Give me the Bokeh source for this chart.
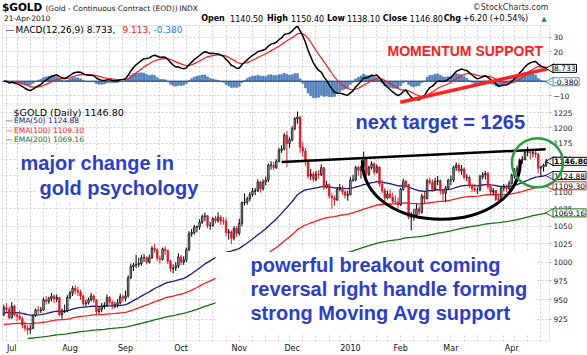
import math
import pandas as pd
from bokeh.plotting import figure
from bokeh.layouts import column
from bokeh.models import (Range1d, FixedTicker, Label, BoxAnnotation, LinearAxis, LogAxis,
                          NumeralTickFormatter, ColumnDataSource, Grid)
from bokeh.embed import file_html
from bokeh.resources import INLINE

# ---------------- data ----------------
holidays = ["2009-07-03", "2009-09-07", "2009-11-26", "2009-12-25",
            "2010-01-01", "2010-01-18", "2010-02-15", "2010-04-02"]
dates = [d for d in pd.bdate_range("2009-06-26", "2010-04-21")
         if d.strftime("%Y-%m-%d") not in holidays]

opens = [931, 940, 938,
         927, 942, 931, 929, 926, 918, 914, 912, 914, 930, 937, 936, 937, 950, 948, 952, 955, 951, 953, 931, 936, 936,
         953, 959, 965, 962, 960, 955, 945, 946, 950, 955, 950, 935, 938, 942, 943, 953, 947, 942, 944, 946, 954,
         952, 955, 979, 994, 996, 997, 998, 1006, 1006, 1000, 1006, 1019, 1017, 1005, 1004, 1018, 1016, 1001, 991, 992, 995,
         1007, 1000, 1003, 1017, 1039, 1041, 1049, 1049, 1056, 1064, 1065, 1051, 1051, 1061, 1058, 1063, 1058, 1057, 1041, 1042, 1033, 1047,
         1040, 1054, 1084, 1085, 1090, 1096, 1101, 1102, 1115, 1105, 1115, 1118, 1141, 1141, 1137, 1147, 1164, 1166, 1188, 1175,
         1181, 1199, 1215, 1218, 1169, 1163, 1147, 1124, 1127, 1119, 1127, 1126, 1137, 1107, 1111, 1094, 1091, 1088, 1104, 1105, 1100, 1095,
         1096, 1118, 1118, 1137, 1133, 1138, 1151, 1127, 1137, 1143, 1130, 1138, 1112, 1102, 1091, 1097, 1092, 1086, 1085,
         1081, 1104, 1116, 1111, 1063, 1064, 1066, 1075, 1070, 1094, 1090, 1117, 1114, 1104, 1116, 1117, 1102, 1098, 1106,
         1118, 1118, 1137, 1141, 1132, 1135, 1122, 1122, 1110, 1105, 1103, 1103, 1123, 1126, 1128, 1108, 1100, 1102, 1089, 1088, 1106, 1108, 1105,
         1113, 1125, 1132, 1136, 1149, 1150, 1161, 1161, 1160, 1160, 1158, 1136, 1138, 1140.5]
highs = [944, 946, 941,
         947, 944, 934, 936, 929, 922, 918, 918, 931, 939, 942, 941, 953, 955, 954, 959, 957, 957, 954, 939, 944, 956,
         962, 968, 969, 967, 963, 957, 950, 953, 959, 957, 951, 941, 946, 947, 957, 955, 950, 948, 951, 958, 957,
         962, 982, 998, 999, 1010, 1006, 1010, 1011, 1008, 1010, 1022, 1025, 1019, 1009, 1020, 1022, 1017, 1003, 997, 1000, 1012,
         1010, 1008, 1020, 1043, 1046, 1052, 1051, 1060, 1067, 1070, 1066, 1056, 1063, 1065, 1070, 1066, 1063, 1062, 1046, 1044, 1050, 1050,
         1061, 1086, 1098, 1093, 1100, 1106, 1106, 1119, 1117, 1119, 1123, 1143, 1147, 1146, 1150, 1168, 1172, 1192, 1195, 1185,
         1203, 1218, 1227, 1219, 1177, 1168, 1150, 1135, 1131, 1132, 1133, 1142, 1138, 1117, 1113, 1098, 1095, 1106, 1112, 1110, 1103, 1102,
         1123, 1126, 1140, 1140, 1140, 1162, 1153, 1140, 1147, 1145, 1142, 1139, 1118, 1106, 1102, 1104, 1099, 1095, 1092,
         1106, 1120, 1118, 1112, 1070, 1075, 1082, 1080, 1097, 1100, 1120, 1122, 1119, 1121, 1124, 1119, 1103, 1109, 1120,
         1125, 1140, 1145, 1144, 1141, 1138, 1127, 1125, 1113, 1112, 1107, 1126, 1130, 1132, 1130, 1112, 1106, 1103, 1098, 1108, 1112, 1111, 1117,
         1128, 1136, 1140, 1151, 1155, 1164, 1170, 1163, 1166, 1165, 1160, 1140, 1143, 1150.4]
lows = [929, 934, 925,
        926, 929, 923, 924, 914, 910, 906, 907, 913, 928, 932, 933, 936, 944, 945, 948, 946, 947, 929, 926, 933, 934,
        951, 955, 957, 955, 950, 941, 942, 944, 948, 946, 931, 932, 934, 938, 941, 944, 938, 939, 940, 944, 947,
        948, 953, 977, 988, 992, 993, 995, 1000, 997, 998, 1004, 1013, 1001, 998, 1002, 1010, 997, 987, 985, 988, 992,
        996, 996, 1000, 1015, 1035, 1038, 1041, 1045, 1053, 1057, 1047, 1045, 1049, 1054, 1055, 1052, 1052, 1036, 1031, 1025, 1030, 1035,
        1037, 1050, 1080, 1081, 1086, 1093, 1095, 1100, 1099, 1102, 1110, 1115, 1134, 1133, 1135, 1145, 1160, 1164, 1138, 1168,
        1178, 1196, 1207, 1160, 1154, 1140, 1120, 1118, 1115, 1116, 1120, 1124, 1103, 1105, 1090, 1075, 1080, 1087, 1101, 1096, 1090, 1087,
        1095, 1115, 1116, 1125, 1120, 1136, 1122, 1124, 1134, 1126, 1128, 1108, 1098, 1086, 1089, 1090, 1083, 1082, 1076,
        1079, 1102, 1106, 1060, 1044, 1058, 1064, 1066, 1068, 1083, 1089, 1111, 1100, 1102, 1110, 1096, 1087, 1085, 1103,
        1110, 1115, 1132, 1129, 1126, 1119, 1116, 1106, 1100, 1100, 1097, 1101, 1119, 1119, 1104, 1097, 1095, 1086, 1083, 1086, 1101, 1100, 1103,
        1111, 1120, 1127, 1134, 1143, 1148, 1155, 1150, 1153, 1152, 1128, 1123, 1131, 1138.1]
closes = [940, 938, 927,
          942, 931, 929, 926, 918, 914, 912, 914, 930, 937, 936, 937, 950, 948, 952, 955, 951, 953, 931, 936, 936, 953,
          959, 965, 962, 960, 955, 945, 946, 950, 955, 950, 935, 938, 942, 943, 953, 947, 942, 944, 946, 954, 952,
          955, 979, 994, 996, 997, 998, 1006, 1006, 1000, 1006, 1019, 1017, 1005, 1004, 1018, 1016, 1001, 991, 992, 995, 1007,
          1000, 1003, 1017, 1039, 1041, 1049, 1049, 1056, 1064, 1065, 1051, 1051, 1061, 1058, 1063, 1058, 1057, 1041, 1042, 1033, 1047, 1040,
          1054, 1084, 1085, 1090, 1096, 1101, 1102, 1115, 1105, 1115, 1118, 1141, 1141, 1137, 1147, 1164, 1166, 1188, 1175, 1181,
          1199, 1215, 1218, 1169, 1163, 1147, 1124, 1127, 1119, 1127, 1126, 1137, 1107, 1111, 1094, 1091, 1088, 1104, 1105, 1100, 1095, 1096,
          1118, 1118, 1137, 1133, 1138, 1151, 1127, 1137, 1143, 1130, 1138, 1112, 1102, 1091, 1097, 1092, 1086, 1085, 1081,
          1104, 1116, 1111, 1063, 1064, 1066, 1075, 1070, 1094, 1090, 1117, 1114, 1104, 1116, 1117, 1102, 1098, 1106, 1118,
          1118, 1137, 1141, 1132, 1135, 1122, 1122, 1110, 1105, 1103, 1103, 1123, 1126, 1128, 1108, 1100, 1102, 1089, 1088, 1106, 1108, 1105, 1113,
          1125, 1132, 1136, 1149, 1150, 1161, 1161, 1160, 1160, 1158, 1136, 1138, 1140.6, 1146.8]

price_ticks = [925, 950, 975, 1000, 1025, 1050, 1075, 1100, 1125, 1150, 1175, 1200, 1225]
macd_ticks = [-10, 0, 10, 20, 30]

ema_periods = [50, 100, 200]
ema_seeds = [933.6, 918.7, 901.6]      # values read at the left end of each line
ema_first = [0, 0, 9]                  # first bar on which each line is drawn
ema_names = ["EMA(50) 1124.88", "EMA(100) 1109.30", "EMA(200) 1069.16"]
ema_tags = ["1124.88", "1109.30", "1069.16"]
ema_tag_values = [1124.88, 1109.30, 1069.16]

macd_last = [8.733, 9.113, -0.380]

neck_x = [105.0, 204.8]
neck_y = [1145.8, 1165.6]
cup_x = [135.5, 195.3]
cup_top = 1148.4
cup_ctrl = 1032.0
support_x = [149.9, 205.4]
support_y = [-14.3, 8.4]
circle_x = [201.7]
circle_y = [1144.6]

# ---------------- derived ----------------
n = len(closes)
idx = list(range(n))
month_ticks = [i for i in idx if i > 0 and dates[i].month != dates[i - 1].month]
month_labels = {i: ("2010" if dates[i].month == 1 else dates[i].strftime("%b")) for i in month_ticks}
week_ticks = [i for i in idx if i > 0 and dates[i].weekday() < dates[i - 1].weekday()]


def ema(vals, span, seed, start=0):
    a = 2.0 / (span + 1)
    out = [float("nan")] * len(vals)
    e = seed
    out[start] = e
    for k in range(start + 1, len(vals)):
        e = e + a * (vals[k] - e)
        out[k] = e
    return out


e12 = ema(closes, 12, closes[0])
e26 = ema(closes, 26, closes[0])
macd = [a - b for a, b in zip(e12, e26)]
signal = ema(macd, 9, macd[0])
hist = [a - b for a, b in zip(macd, signal)]

prev = [opens[0]] + closes[:-1]
up = [c >= pc for c, pc in zip(closes, prev)]


def sub(mask):
    return ColumnDataSource(dict(
        x=[i for i in idx if mask[i]],
        top=[max(opens[i], closes[i]) for i in idx if mask[i]],
        bottom=[min(opens[i], closes[i]) for i in idx if mask[i]],
        high=[highs[i] for i in idx if mask[i]],
        low=[lows[i] for i in idx if mask[i]],
    ))


src_up = sub(up)
src_dn = sub([not u for u in up])

# ---------------- layout helpers (pixel -> data) ----------------
PX = 2.6455


def X(px):
    return -0.5 + (px - 2) / PX


def PY(py):
    return 1225 * math.exp(-(py - 112.3) / 739.0)


def MY(py):
    return (80.7 - py) / 1.47


GRID = "#cfcfcf"
FRAME = "#a9a0b4"
FONT = "DejaVu Sans"
BIG = "Liberation Sans"
BLUE = "#2a3fd0"
RIGHT = X(549)

xr = Range1d(X(1), X(587))


def lab(p, x, y, text, size="8px", color="#111111", bold=False, bg=None,
        border=None, pad=0, font=FONT):
    kw = dict(x=x, y=y, text=text, text_font=font, text_font_size=size,
              text_color=color, text_font_style="bold" if bold else "normal",
              text_align="left", text_baseline="middle")
    if bg is not None:
        kw["background_fill_color"] = bg
        kw["background_fill_alpha"] = 1.0
    if border is not None:
        kw["border_line_color"] = border
        kw["border_line_width"] = 1
    if pad:
        kw["padding"] = pad
    p.add_layout(Label(**kw))


def panel(p, ticks, axis, frame_top, frame_bottom):
    p.outline_line_color = None
    p.background_fill_color = "white"
    p.border_fill_color = "white"
    p.grid.visible = False
    p.add_layout(Grid(dimension=0, ticker=FixedTicker(ticks=week_ticks),
                      grid_line_color=GRID, grid_line_dash="2 2"))
    p.add_layout(Grid(dimension=1, ticker=FixedTicker(ticks=ticks),
                      grid_line_color=GRID, grid_line_dash="2 2"))
    # blank strip right of the plotting area (holds the value scale)
    p.add_layout(BoxAnnotation(left=RIGHT, fill_color="white", fill_alpha=1.0,
                               line_color=None, level="underlay"))
    axis.fixed_location = RIGHT
    axis.ticker = FixedTicker(ticks=ticks)
    axis.axis_line_color = None
    axis.major_tick_line_color = "#a0a0a0"
    axis.major_tick_in = 0
    axis.major_tick_out = 2
    axis.minor_tick_line_color = None
    axis.major_label_standoff = 2
    axis.major_label_text_font = FONT
    axis.major_label_text_font_size = "7.5px"
    axis.major_label_text_color = "#222222"
    p.add_layout(axis, "right")
    p.add_layout(BoxAnnotation(left=X(2), right=RIGHT, top=frame_top, bottom=frame_bottom,
                               fill_alpha=0.0, line_color=FRAME, line_width=1))


def tag(p, y, text, border, bold=False):
    p.scatter([X(550.5)], [y], marker="triangle", angle=math.pi / 2, size=9,
              fill_color="white", line_color=border, line_width=1)
    lab(p, X(552.5), y, text, size="7.5px", color="black", bold=bold,
        bg="white", border=border, pad=1)


# ---------------- header ----------------
p0 = figure(width=587, height=24, x_range=Range1d(0, 587), y_range=Range1d(24, 0),
            x_axis_location=None, y_axis_location=None, output_backend="svg",
            toolbar_location=None, min_border=0)
p0.outline_line_color = None
p0.grid.visible = False
lab(p0, 0.5, 6.5, "$GOLD", size="10.5px", color="black", bold=True)
lab(p0, 44, 7.5, "(Gold - Continuous Contract (EOD))", size="7.5px", color="#222222")
lab(p0, 178, 7.5, "INDX", size="7.5px", color="#222222")
lab(p0, 472, 6.5, "\u00a9StockCharts.com", size="8px", color="#333333")
lab(p0, 2.5, 17.5, "21-Apr-2010", size="7.5px", color="#111111")
hdr = [(200, "Open", True), (229, "1140.50", False), (266, "High", True), (290, "1150.40", False),
       (326, "Low", True), (346, "1138.10", False), (382, "Close", True), (409, "1146.80", False),
       (443, "Chg", True), (462, "+6.20 (+0.54%)", False)]
for px, t, b in hdr:
    lab(p0, px, 18, t, size="8px", color="black", bold=b)
lab(p0, 541, 18, "\u25b2", size="6.5px", color="#1a8a2a")

# ---------------- MACD panel ----------------
p1 = figure(width=587, height=80, x_range=xr, y_range=Range1d(MY(104), MY(24)),
            x_axis_location=None, y_axis_location=None,
            output_backend="svg", toolbar_location=None,
            min_border_left=1, min_border_right=0, min_border_top=0, min_border_bottom=0)
panel(p1, macd_ticks, LinearAxis(), MY(25), MY(103.5))

p1.vbar(x=idx, top=hist, bottom=0, width=0.75, fill_color="#4f86c2", line_color="#3f6fa8", line_width=0.5)
p1.line(idx, [0] * n, line_color="#1f3f86", line_width=1)
p1.line(idx, signal, line_color="#ff1a1a", line_width=1.2)
p1.line(idx, macd, line_color="black", line_width=1.5)
p1.line(support_x, support_y, line_color="#ff2020", line_width=3.5)

lab(p1, X(5), MY(29), "\u2014", size="9px", color="black")
lab(p1, X(15), MY(29), "MACD(12,26,9) 8.733,", size="9px", color="black")
lab(p1, X(122), MY(29), "9.113,", size="9px", color="#ff1a1a")
lab(p1, X(153), MY(29), "-0.380", size="9px", color="#1e88d0")
lab(p1, X(386), MY(50), "MOMENTUM SUPPORT", size="14px", color="#ff2020", bold=True,
    bg="white", pad=1, font=BIG)
tag(p1, macd_last[0], "8.733", "black")
tag(p1, macd_last[2], "-0.380", "#3399dd")

# ---------------- price panel ----------------
p2 = figure(width=587, height=251, x_range=xr, y_range=Range1d(PY(342), PY(104)),
            y_axis_type="log", y_axis_location=None,
            output_backend="svg", toolbar_location=None,
            min_border_left=1, min_border_right=0, min_border_top=0, min_border_bottom=13)
yax = LogAxis(formatter=NumeralTickFormatter(format="0"))
panel(p2, price_ticks, yax, PY(104.5), PY(341.5))
p2.xaxis.ticker = FixedTicker(ticks=month_ticks)
p2.xaxis.major_label_overrides = month_labels
p2.xaxis.axis_line_color = None
p2.xaxis.major_tick_line_color = None
p2.xaxis.minor_tick_line_color = None
p2.xaxis.major_tick_out = 0
p2.xaxis.major_label_standoff = 2
p2.xaxis.major_label_text_font = FONT
p2.xaxis.major_label_text_font_size = "8px"
p2.xaxis.major_label_text_color = "#111111"

ema_colors = ["#1a1a8c", "#ff1a1a", "#137313"]
for per, seed, st, col in zip(ema_periods, ema_seeds, ema_first, ema_colors):
    p2.line(idx, ema(closes, per, seed, st), line_color=col, line_width=1.3)

p2.segment(x0="x", y0="low", x1="x", y1="high", source=src_up, line_color="black", line_width=1)
p2.vbar(x="x", top="top", bottom="bottom", width=0.62, source=src_up,
        fill_color="#9a9a9a", line_color="black", line_width=0.7)
p2.segment(x0="x", y0="low", x1="x", y1="high", source=src_dn, line_color="#e01b22", line_width=1)
p2.vbar(x="x", top="top", bottom="bottom", width=0.62, source=src_dn,
        fill_color="#e01b22", line_color="#e01b22", line_width=0.7)

p2.line(neck_x, neck_y, line_color="black", line_width=2.5)
p2.bezier(x0=[cup_x[0]], y0=[cup_top], x1=[cup_x[1]], y1=[cup_top],
          cx0=[cup_x[0]], cy0=[cup_ctrl], cx1=[cup_x[1]], cy1=[cup_ctrl],
          line_color="black", line_width=3)

# white box behind the lower note
p2.add_layout(BoxAnnotation(left=X(215), right=X(535), top=PY(252), bottom=PY(334),
                            fill_color="white", fill_alpha=1.0, line_color=None))

lab(p2, X(13), PY(111.7), "$GOLD (Daily) 1146.80", size="9.5px", color="black")
for k, (nm, col) in enumerate(zip(ema_names, ema_colors)):
    lab(p2, X(5), PY(120.5 + 9.2 * k), "\u2014", size="7.5px", color=col)
    lab(p2, X(13.5), PY(120.5 + 9.2 * k), nm, size="7.5px", color=col)

lab(p2, X(18), PY(163), "major change in", size="20px", color=BLUE, bold=True, bg="white", pad=2, font=BIG)
lab(p2, X(37), PY(188), "gold psychology", size="20px", color=BLUE, bold=True, bg="white", pad=2, font=BIG)
lab(p2, X(353), PY(121.7), "next target = 1265", size="20px", color=BLUE, bold=True, bg="white", pad=2, font=BIG)
for k, t in enumerate(["powerful breakout coming", "reversal right handle forming",
                       "strong Moving Avg support"]):
    lab(p2, X(250), PY(265 + 24 * k), t, size="20px", color=BLUE, bold=True, font=BIG)

tag(p2, closes[-1], "1146.80", "black", bold=True)
for v, t, col in zip(ema_tag_values, ema_tags, ema_colors):
    tag(p2, v, t, col)

p2.ellipse(x=circle_x, y=circle_y, width=51, height=49, width_units="screen", height_units="screen",
           fill_color=None, line_color="#22a03c", line_width=2.5, level="overlay")

page = column(p0, p1, p2, spacing=0)
open("out.html", "w").write(file_html(page, INLINE))
